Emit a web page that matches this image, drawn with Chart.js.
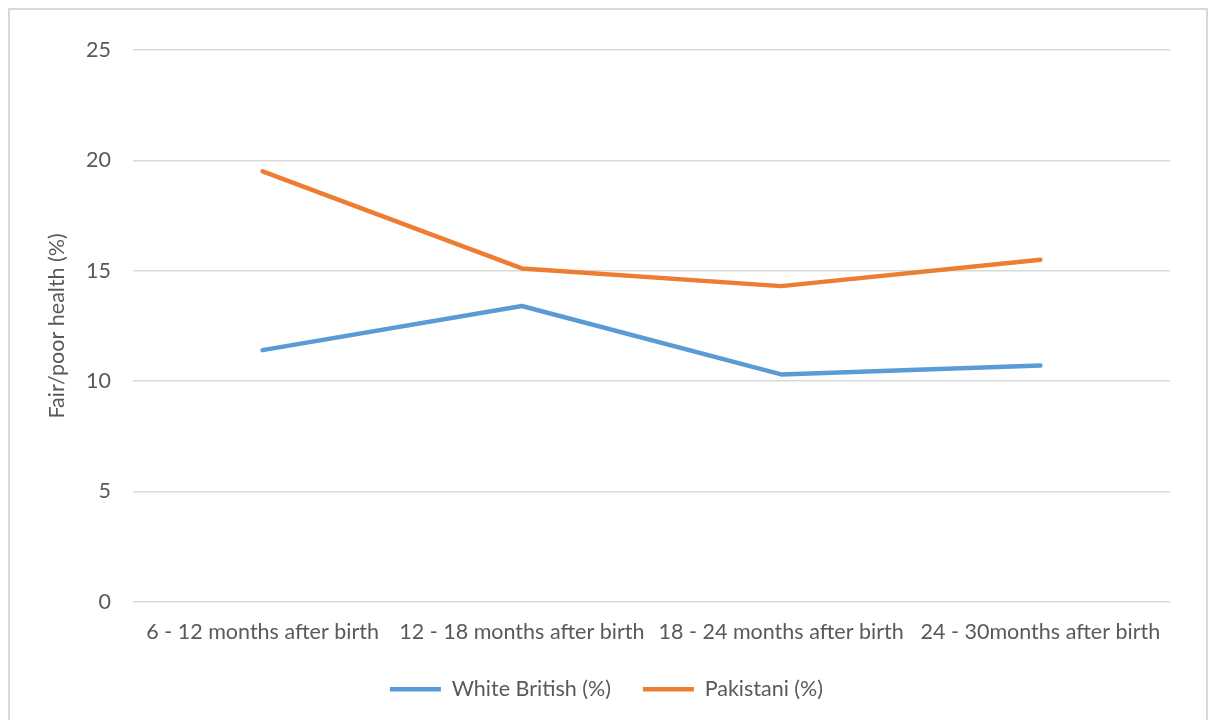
<!DOCTYPE html>
<html>
<head>
<meta charset="utf-8">
<script src="https://cdn.jsdelivr.net/npm/chart.js@4/dist/chart.umd.min.js"></script>
<style>
  html, body { margin: 0; padding: 0; background: #fff; }
  #wrap { position: relative; width: 1213px; height: 720px; overflow: hidden; }
  #frame { position: absolute; left: 8px; top: 8px; width: 1200px; height: 730px; border: 2px solid #d9d9d9; box-sizing: border-box; }
  canvas { position: absolute; left: 0; top: 0; }
</style>
</head>
<body>
<div id="wrap">
  <div id="frame"></div>
  <canvas id="c" width="1213" height="720"></canvas>
</div>
<script>
const categories = [
  '6 - 12 months after birth',
  '12 - 18 months after birth',
  '18 - 24 months after birth',
  '24 - 30months after birth'
];
const whiteBritish = [11.4, 13.4, 10.3, 10.7];
const pakistani = [19.5, 15.1, 14.3, 15.5];
const yTicks = [0, 5, 10, 15, 20, 25];

const FONT = 'Lato, "Open Sans", sans-serif';
const TEXT = '#595959';
const SIZE = 21.5;

new Chart(document.getElementById('c'), {
  type: 'line',
  data: {
    labels: categories,
    datasets: [
      {
        label: 'White British (%)',
        data: whiteBritish,
        borderColor: '#5B9BD5',
        backgroundColor: '#5B9BD5',
        borderWidth: 4.5,
        borderCapStyle: 'round',
        borderJoinStyle: 'round',
        pointRadius: 0,
        tension: 0
      },
      {
        label: 'Pakistani (%)',
        data: pakistani,
        borderColor: '#ED7D31',
        backgroundColor: '#ED7D31',
        borderWidth: 4.5,
        borderCapStyle: 'round',
        borderJoinStyle: 'round',
        pointRadius: 0,
        tension: 0
      }
    ]
  },
  options: {
    responsive: false,
    animation: false,
    layout: { padding: { left: 0, right: 0, top: 50, bottom: 10 } },
    plugins: {
      tooltip: { enabled: false },
      legend: {
        position: 'bottom',
        labels: {
          usePointStyle: true,
          pointStyle: 'line',
          pointStyleWidth: 51,
          boxHeight: 4,
          color: TEXT,
          font: { family: FONT, size: SIZE },
          padding: 32
        }
      }
    },
    scales: {
      x: {
        offset: true,
        grid: { display: false },
        border: { display: false },
        afterFit: (axis) => { axis.height -= 7; },
        ticks: {
          color: TEXT,
          font: { family: FONT, size: SIZE },
          maxRotation: 0,
          autoSkip: false,
          padding: 9
        }
      },
      y: {
        min: 0,
        max: 25,
        afterBuildTicks: (axis) => { axis.ticks = yTicks.map(v => ({ value: v })); },
        afterFit: (axis) => { axis.width = 133; },
        grid: { color: '#d9d9d9', lineWidth: 1.5, drawTicks: false },
        border: { display: false },
        ticks: {
          color: TEXT,
          font: { family: FONT, size: SIZE },
          padding: 22
        },
        title: {
          display: true,
          text: 'Fair/poor health (%)',
          color: TEXT,
          font: { family: FONT, size: SIZE },
          padding: { top: 44, bottom: 0 }
        }
      },
      // empty right-hand margin so the plot ends short of the frame
      yRight: {
        type: 'linear',
        position: 'right',
        min: 0,
        max: 25,
        afterFit: (axis) => { axis.width = 43; },
        grid: { display: false, drawTicks: false },
        border: { display: false },
        ticks: { display: false }
      }
    }
  }
});
</script>
</body>
</html>
